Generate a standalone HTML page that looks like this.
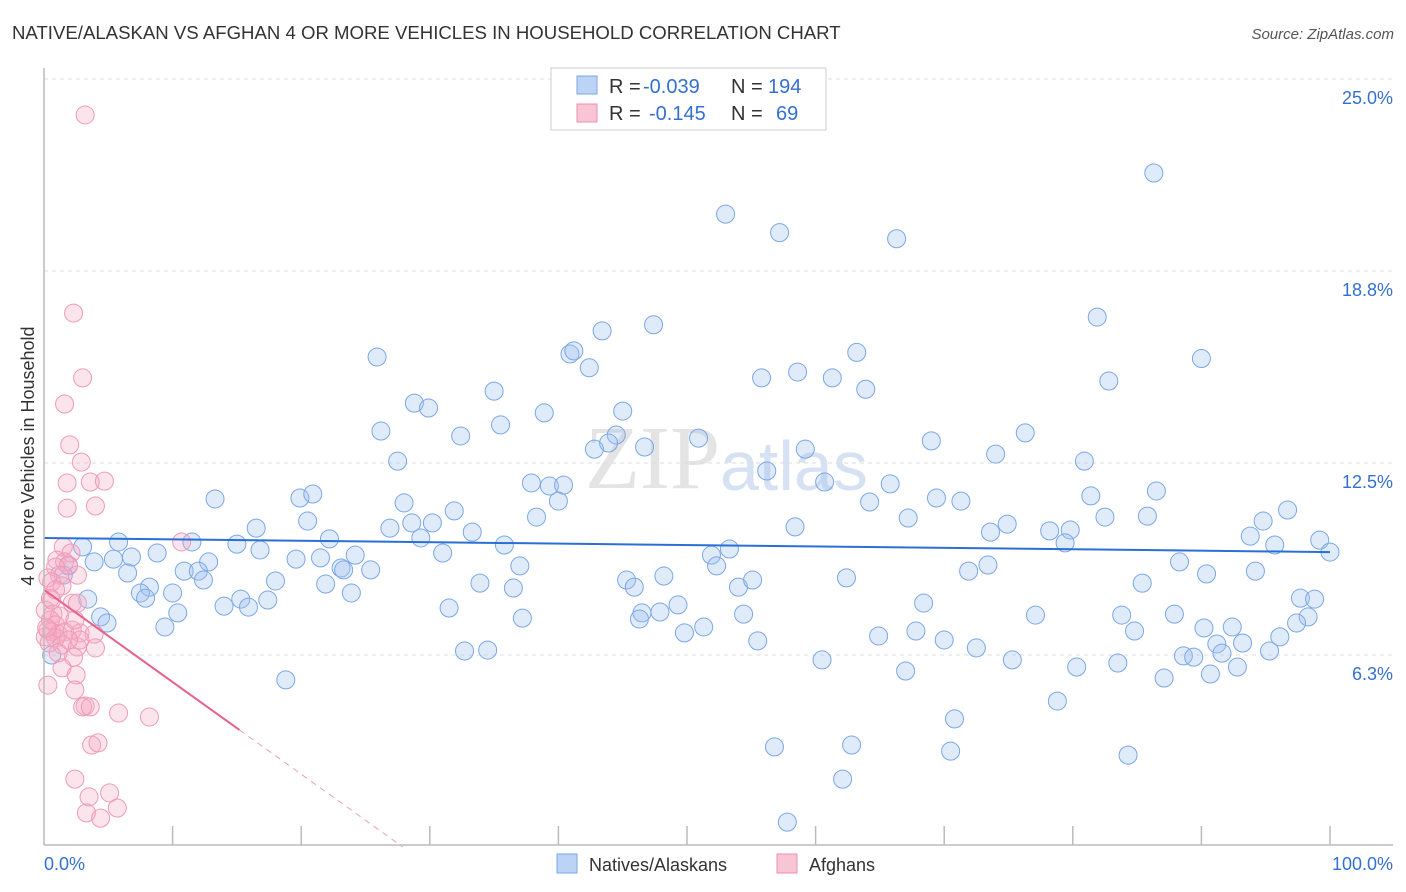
<!DOCTYPE html>
<html><head><meta charset="utf-8">
<style>
body{margin:0;background:#fff;font-family:"Liberation Sans",sans-serif;}
#wrap{position:relative;width:1406px;height:892px;overflow:hidden;}
</style></head>
<body>
<div id="wrap">
<svg id="svg" width="1406" height="892" xmlns="http://www.w3.org/2000/svg">
<text x="12" y="39" font-size="18.6" fill="#333">NATIVE/ALASKAN VS AFGHAN 4 OR MORE VEHICLES IN HOUSEHOLD CORRELATION CHART</text>
<text x="1394" y="39" font-size="15" fill="#555" font-style="italic" text-anchor="end">Source: ZipAtlas.com</text>
<text x="720" y="488" font-size="90" fill="#e4e4e4" text-anchor="end" font-family="Liberation Serif">ZIP</text>
<text x="720" y="490" font-size="70" fill="#d6e2f3">atlas</text>
<g id="grid"></g>
<g id="pts"></g>
<g id="trend"></g>
<line x1="44" y1="68" x2="44" y2="845" stroke="#bbb" stroke-width="1.5"/>
<line x1="44" y1="845" x2="1393" y2="845" stroke="#bbb" stroke-width="1.5"/>
<g id="ticks"></g>
<text transform="translate(34,456) rotate(-90)" font-size="18" fill="#333" text-anchor="middle">4 or more Vehicles in Household</text>
<g>
<rect x="551" y="68" width="275" height="62" fill="#fff" stroke="#ccc"/>
<rect x="577" y="76" width="20" height="18" fill="#bcd3f5" stroke="#7aa7e8"/>
<rect x="577" y="104" width="20" height="18" fill="#f8c5d5" stroke="#f08cb0"/>
<text x="609" y="93" font-size="20" fill="#333">R =</text>
<text x="643" y="93" font-size="20" fill="#3470d2">-0.039</text>
<text x="731" y="93" font-size="20" fill="#333">N =</text>
<text x="768" y="93" font-size="20" fill="#3470d2">194</text>
<text x="609" y="120" font-size="20" fill="#333">R =</text>
<text x="649" y="120" font-size="20" fill="#3470d2">-0.145</text>
<text x="731" y="120" font-size="20" fill="#333">N =</text>
<text x="776" y="120" font-size="20" fill="#3470d2">69</text>
</g>
<g>
<rect x="557" y="854" width="20" height="19" fill="#bcd3f5" stroke="#7aa7e8"/>
<text x="589" y="871" font-size="18" fill="#333">Natives/Alaskans</text>
<rect x="777" y="854" width="20" height="19" fill="#f8c5d5" stroke="#f08cb0"/>
<text x="809" y="871" font-size="18" fill="#333">Afghans</text>
</g>
</svg>
</div>
<script>
const yTicks=[25,18.75,12.5,6.25];
const yTickLabels=["25.0%","18.8%","12.5%","6.3%"];
const xTicks=[0,10,20,30,40,50,60,70,80,90,100];
const blueX=[86.3,53.0,57.2,66.3,81.9,43.4,47.4,25.9,40.9,41.2,63.2,90.0,42.4,55.8,58.6,61.3,82.8,35.0,63.9,28.8,29.9,38.9,45.0,35.5,26.2,32.4,44.5,50.9,76.3,69.0,43.9,42.8,46.7,59.2,27.5,74.0,80.9,56.2,37.9,39.3,40.4,60.7,65.8,86.5,13.3,19.9,20.9,28.0,40.0,81.4,69.4,71.3,31.9,64.2,96.7,20.5,28.6,30.2,38.3,67.2,82.5,85.8,94.8,26.9,33.3,74.9,73.6,78.2,79.8,16.5,58.4,22.2,29.3,93.8,5.8,11.5,15.0,3.0,35.8,79.4,99.2,95.7,100,8.8,6.8,16.8,24.2,31.0,53.3,51.9,19.6,21.5,5.4,3.9,12.8,10.9,12.0,6.5,23.1,25.4,23.3,37.0,52.3,73.4,71.9,88.3,94.2,90.4,45.3,48.2,33.9,18.0,12.4,21.9,8.2,62.4,54.0,55.1,85.4,36.5,45.9,7.5,10.0,7.9,3.4,15.3,17.4,23.9,14.0,15.9,10.4,31.5,68.4,97.7,98.8,49.3,47.9,46.5,4.4,54.4,77.1,83.8,87.9,98.3,37.2,46.3,9.4,4.9,97.4,90.2,92.4,51.3,49.8,64.9,67.8,84.8,70.0,96.1,55.5,91.2,72.5,93.2,88.6,89.4,91.6,95.3,32.7,34.5,60.5,75.3,80.3,83.5,67.0,90.7,87.1,92.8,18.8,78.8,70.8,56.8,62.8,70.5,84.3,62.1,57.8,0.6,1.9,1.5];
const blueY=[21.94,20.6,20.0,19.8,17.25,16.8,17.0,15.95,16.05,16.15,16.1,15.9,15.6,15.27,15.46,15.27,15.17,14.84,14.9,14.45,14.29,14.13,14.19,13.74,13.54,13.38,13.41,13.31,13.48,13.22,13.15,12.95,13.02,12.95,12.56,12.79,12.56,12.24,11.85,11.75,11.78,11.88,11.82,11.59,11.33,11.36,11.49,11.2,11.26,11.43,11.36,11.26,10.94,11.23,10.97,10.61,10.55,10.55,10.74,10.71,10.74,10.77,10.61,10.38,10.25,10.51,10.25,10.29,10.32,10.38,10.42,10.03,10.06,10.12,9.93,9.93,9.86,9.77,9.83,9.9,9.99,9.83,9.6,9.57,9.44,9.67,9.5,9.57,9.7,9.5,9.37,9.41,9.37,9.28,9.28,8.98,8.98,8.92,9.08,9.02,9.02,9.15,9.15,9.18,8.98,9.28,8.98,8.89,8.69,8.82,8.59,8.66,8.69,8.56,8.46,8.76,8.46,8.69,8.59,8.43,8.46,8.27,8.27,8.1,8.07,8.07,8.04,8.27,7.84,7.81,7.62,7.78,7.94,8.1,8.07,7.88,7.65,7.62,7.49,7.58,7.55,7.55,7.58,7.49,7.45,7.42,7.16,7.29,7.29,7.13,7.16,7.16,6.97,6.87,7.03,7.03,6.74,6.84,6.71,6.61,6.48,6.64,6.22,6.18,6.31,6.38,6.38,6.41,6.09,6.09,5.86,5.99,5.73,5.63,5.5,5.86,5.44,4.75,4.17,3.26,3.32,3.12,2.99,2.21,0.81,6.25,9.15,8.85];
const pinkX=[3.2,2.3,3.0,1.6,2.0,2.9,1.8,3.6,4.7,1.8,4.0,10.7,1.5,2.1,1.0,1.6,1.9,0.9,1.2,2.6,0.3,0.6,1.4,0.5,2.2,2.6,0.1,0.7,1.2,0.5,0.9,0.3,0.6,1.1,1.6,2.2,2.8,3.9,0.1,0.9,0.4,1.4,2.6,4.0,1.1,2.3,1.4,2.5,2.4,0.3,3.2,3.0,3.6,5.8,8.2,3.7,4.2,2.4,3.5,5.1,5.7,3.3,4.4,2.8,1.9,0.2,0.6,0.9,2.4];
const pinkY=[23.83,17.38,15.27,14.42,13.09,12.53,11.85,11.88,11.91,11.03,11.1,9.93,9.77,9.57,9.34,9.28,9.18,9.11,8.85,8.85,8.76,8.63,8.5,8.1,7.94,7.94,7.71,7.58,7.52,7.39,7.23,7.06,7.0,6.93,7.0,7.06,6.97,6.93,6.84,6.8,6.64,6.58,6.51,6.48,6.32,6.18,5.83,5.6,5.11,5.27,4.59,4.56,4.56,4.36,4.23,3.32,3.39,2.21,1.63,1.76,1.27,1.11,0.94,6.74,6.74,7.13,8.04,8.37,7.39];
const blueTrend=[10.06,9.6];
const pinkTrend=[8.37,-0.3];
const pinkSolidEnd=15.2;

const NS="http://www.w3.org/2000/svg";
const X=v=>44+v*12.86;
const Y=v=>847-v*30.72;
function mk(tag,attrs,parent){const e=document.createElementNS(NS,tag);for(const k in attrs)e.setAttribute(k,attrs[k]);parent.appendChild(e);return e;}
const grid=document.getElementById('grid'),ticks=document.getElementById('ticks'),pts=document.getElementById('pts'),trend=document.getElementById('trend');
yTicks.forEach((t,i)=>{
  const l=mk('line',{x1:44,x2:1393,y1:Y(t),y2:Y(t),stroke:'#ddd','stroke-dasharray':'4,4'},grid);
  
  
  const tx=mk('text',{x:1393,y:Y(t)+25,'font-size':18,fill:'#3470d2','text-anchor':'end'},ticks);
  tx.textContent=yTickLabels[i];
  
  
});
xTicks.forEach(t=>{
  if(t===0)return;
  const l=mk('line',{x1:X(t),x2:X(t),y1:826,y2:845,stroke:'#bbb','stroke-width':1.5},ticks);
  
  
});
const xl0=mk('text',{x:44,y:870,'font-size':18,fill:'#3470d2'},ticks);xl0.textContent='0.0%';


const xl1=mk('text',{x:1393,y:870,'font-size':18,fill:'#3470d2','text-anchor':'end'},ticks);xl1.textContent='100.0%';


blueX.forEach((v,i)=>{
  const c=mk('circle',{cx:X(v),cy:Y(blueY[i]),r:9,fill:'rgba(160,192,240,0.32)',stroke:'#7aa7e8','stroke-width':1},pts);
  
  
});
pinkX.forEach((v,i)=>{
  const c=mk('circle',{cx:X(v),cy:Y(pinkY[i]),r:9,fill:'rgba(245,170,195,0.32)',stroke:'#f09ab8','stroke-width':1},pts);
  
  
});
const bt=mk('line',{x1:X(0),y1:Y(blueTrend[0]),x2:X(100),y2:Y(blueTrend[1]),stroke:'#2a6fd6','stroke-width':2},trend);


const pe=pinkTrend[0]+pinkTrend[1]*pinkSolidEnd;
const pt=mk('line',{x1:X(0),y1:Y(pinkTrend[0]),x2:X(pinkSolidEnd),y2:Y(pe),stroke:'#e8608c','stroke-width':2},trend);


const xz=-pinkTrend[0]/pinkTrend[1];
const pd=mk('line',{x1:X(pinkSolidEnd),y1:Y(pe),x2:X(xz),y2:Y(0),stroke:'#e8a0b8','stroke-width':1,'stroke-dasharray':'6,5'},trend);


</script>
</body></html>
